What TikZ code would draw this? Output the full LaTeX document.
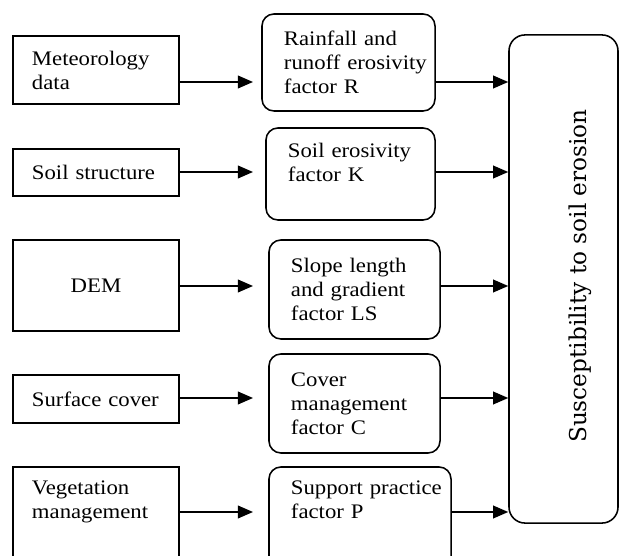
\documentclass[tikz,border=0pt]{standalone}
\usepackage{fontspec}
\setmainfont{Liberation Serif}[FakeStretch=1.1]
\newfontfamily\sidefont{DejaVu Serif}
\usepackage{tikz}
\usetikzlibrary{arrows.meta,positioning}

\begin{document}
\begin{tikzpicture}[
      x=0.025cm, y=-0.025cm,
      src/.style={rectangle, draw, line width=1.1pt, inner xsep=0.475cm,
      text width=3.2cm, align=left, font=\fontsize{14.7}{17}\selectfont},
      fac/.style={rectangle, draw, line width=1.1pt, rounded corners=0.3cm,
      inner xsep=0.55cm, align=left, font=\fontsize{14.7}{17}\selectfont},
      res/.style={rectangle, draw, line width=1.1pt, rounded corners=0.4cm,
      minimum width=2.725cm, minimum height=12.2cm},
      >={Triangle[length=0.38cm,width=0.32cm]}]
    \useasboundingbox (0,0) rectangle (619,556);
    \node[src, minimum height=1.7cm] (met) at (96,70) {Meteorology\\data};
    \node[src, minimum height=1.175cm] (soilst) at (96,172.5) {Soil structure};
    \node[src, minimum height=2.275cm, align=center] (dem) at (96,285.5) {DEM};
    \node[src, minimum height=1.2cm] (surf) at (96,399) {Surface cover};
    \node[src, minimum height=2.85cm] (veg) at (96,524) {Vegetation\\management\\\mbox{}\\\mbox{}};
    \node[fac, text width=3.225cm, minimum height=2.425cm] (rain) at (348.5,62.5)
      {Rainfall and\\\mbox{runoff erosivity}\\factor R};
    \node[fac, text width=3.125cm, minimum height=2.3cm] (soiler) at (350.5,174)
      {\mbox{Soil erosivity}\\factor K\\\mbox{}};
    \node[fac, text width=3.175cm, minimum height=2.475cm] (slope) at (354.5,289.5)
      {Slope length\\and gradient\\factor LS};
    \node[fac, text width=3.175cm, minimum height=2.475cm] (cover) at (354.5,403.5)
      {Cover\\management\\factor C};
    \node[fac, text width=3.45cm, minimum height=2.85cm] (supp) at (360,524)
      {\mbox{Support practice}\\factor P\\\mbox{}\\\mbox{}};
    \node[res] (sus) at (563.5,279) {};
    \node[rotate=90, font=\sidefont\fontsize{16.5}{19}\selectfont] (suslabel) at (580,276)
      {Susceptibility to soil erosion};
    \coordinate (t1) at (253,82);
    \coordinate (t2) at (253,172);
    \coordinate (t3) at (253,286);
    \coordinate (t4) at (253,398);
    \coordinate (t5) at (253,512);
    \draw[->, line width=1.1pt] (met.east |- t1) -- (t1);
    \draw[->, line width=1.1pt] (soilst.east |- t2) -- (t2);
    \draw[->, line width=1.1pt] (dem.east |- t3) -- (t3);
    \draw[->, line width=1.1pt] (surf.east |- t4) -- (t4);
    \draw[->, line width=1.1pt] (veg.east |- t5) -- (t5);
    \draw[->, line width=1.1pt] (rain.east |- t1) -- (sus.west |- t1);
    \draw[->, line width=1.1pt] (soiler.east |- t2) -- (sus.west |- t2);
    \draw[->, line width=1.1pt] (slope.east |- t3) -- (sus.west |- t3);
    \draw[->, line width=1.1pt] (cover.east |- t4) -- (sus.west |- t4);
    \draw[->, line width=1.1pt] (supp.east |- t5) -- (sus.west |- t5);
  \end{tikzpicture}
\end{document}
